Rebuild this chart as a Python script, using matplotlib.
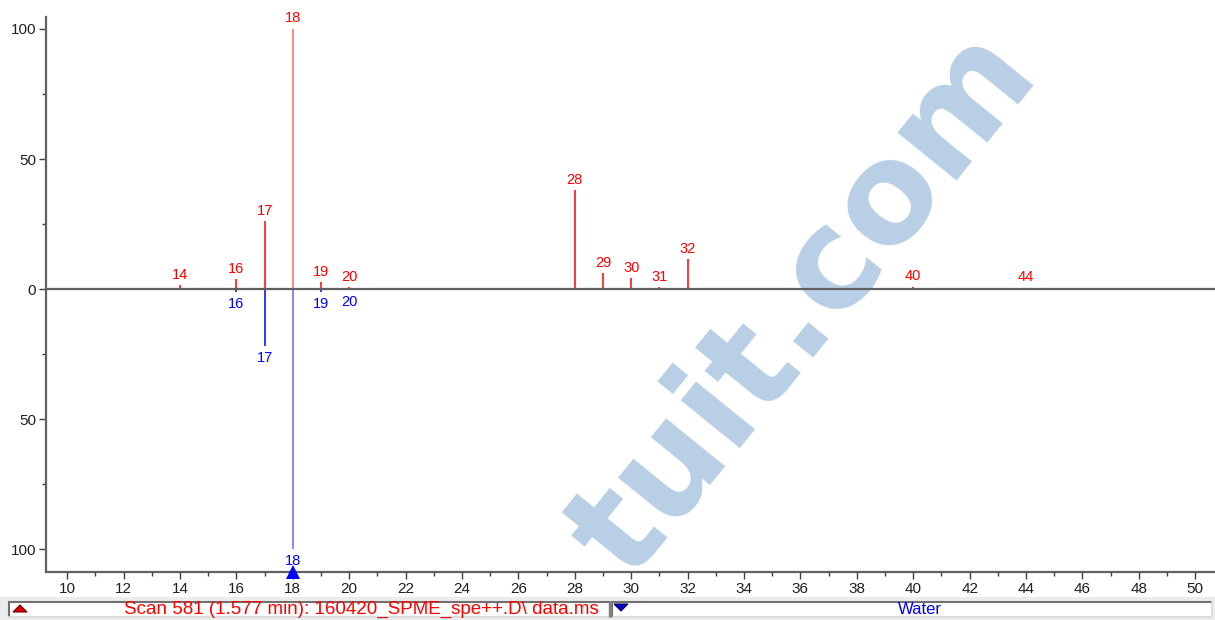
import matplotlib
matplotlib.use("Agg")
import matplotlib.pyplot as plt
from matplotlib.patches import Rectangle, Polygon
from matplotlib.ticker import MultipleLocator, FuncFormatter

plt.rcParams['font.family'] = ['Liberation Sans', 'DejaVu Sans']

# Scan spectrum (upper, red) and library spectrum (lower, blue)
scan_mz = [14, 16, 17, 18, 19, 20, 28, 29, 30, 31, 32, 40, 44]
scan_abund = [1.4, 3.8, 26, 100, 2.6, 0.6, 38, 6, 4.1, 0.6, 11.5, 0.8, 0.5]
lib_mz = [16, 17, 18, 19, 20]
lib_abund = [1.1, 22, 100, 1.1, 0.5]

scan_title = "Scan 581 (1.577 min): 160420_SPME_spe++.D\\ data.ms"
lib_title = "Water"

W, H = 1215, 620
fig = plt.figure(figsize=(W / 100, H / 100), dpi=100)

# background layer in pixel coordinates (status bar, watermark)
bg = fig.add_axes([0, 0, 1, 1], zorder=0)
bg.set_xlim(0, W)
bg.set_ylim(H, 0)
bg.axis('off')
bg.add_patch(Rectangle((0, 597), W, 23, facecolor='#ececec', edgecolor='none'))
for x0, x1 in [(8, 611), (611, 1212)]:
    bg.add_patch(Rectangle((x0, 601), x1 - x0, 16, facecolor='white', edgecolor='none'))
    bg.plot([x0, x1], [601.5, 601.5], color='#707070', lw=1.5, solid_capstyle='butt')
    bg.plot([x0 + 0.5, x0 + 0.5], [601, 617], color='#707070', lw=1.5, solid_capstyle='butt')
    bg.plot([x0, x1], [616.5, 616.5], color='#d8d8d8', lw=1.2, solid_capstyle='butt')
    bg.plot([x1 - 0.5, x1 - 0.5], [601, 617], color='#d8d8d8', lw=1.2, solid_capstyle='butt')
bg.plot([610, 610], [601, 617], color='#808080', lw=2.5, solid_capstyle='butt')
bg.add_patch(Polygon([[13, 612], [27, 612], [20, 605]], closed=True,
                     facecolor='#e00000', edgecolor='#600000', lw=0.8))
bg.add_patch(Polygon([[614, 604], [628, 604], [621, 611]], closed=True,
                     facecolor='#0000c0', edgecolor='#000060', lw=0.8))

bg.text(805, 305, "tuit.com", rotation=51, fontsize=100, fontweight='bold',
        family='DejaVu Sans', color='#b8cfe6', ha='center', va='center',
        rotation_mode='anchor')

bg.text(361, 609.5, scan_title, color='#ff0000', fontsize=13.5,
        ha='center', va='center')
bg.text(920, 609.5, lib_title, color='#0000ff', fontsize=12,
        ha='center', va='center')

# main spectrum axes
ax = fig.add_axes([46 / W, 48 / H, (W - 46) / W, (572 - 17) / H], zorder=1)
ax.patch.set_alpha(0)
ax.set_xlim(9.25, 50.7)
ax.set_ylim(-108.8, 104.6)

red, red_hi = '#ff0000', '#ff6464'
blue, blue_hi = '#0000ff', '#6464ff'

for mz, a in zip(scan_mz, scan_abund):
    c = red_hi if a >= 100 else red
    ax.vlines(mz, 0, a, color=c, lw=1.1)
    ax.annotate(str(mz), (mz, a), xytext=(0, 2.5), textcoords='offset points',
                ha='center', va='bottom', color=red, fontsize=10.5)

for mz, a in zip(lib_mz, lib_abund):
    c = blue_hi if a >= 100 else blue
    ax.vlines(mz, 0, -a, color=c, lw=1.1)
    ax.annotate(str(mz), (mz, -a), xytext=(0, -3.5), textcoords='offset points',
                ha='center', va='top', color=blue, fontsize=10.5)

ax.axhline(0, color='#606060', lw=1.6, zorder=3)

# selected-ion marker on the mass axis
top_mz = scan_mz[scan_abund.index(max(scan_abund))]
ax.plot([top_mz], [-108.8], marker='^', markersize=10, color='#0000ff',
        clip_on=False, zorder=5, markeredgewidth=0)

for side in ('top', 'right'):
    ax.spines[side].set_visible(False)
for side in ('left', 'bottom'):
    ax.spines[side].set_color('#606060')
    ax.spines[side].set_linewidth(1.6)

ax.xaxis.set_major_locator(MultipleLocator(2))
ax.xaxis.set_minor_locator(MultipleLocator(1))
ax.yaxis.set_major_locator(MultipleLocator(50))
ax.yaxis.set_minor_locator(MultipleLocator(25))
ax.yaxis.set_major_formatter(FuncFormatter(lambda v, p: f"{abs(v):.0f}"))
ax.tick_params(which='major', length=5, width=1, color='#404040',
               labelsize=11, labelcolor='#202020', pad=2)
ax.tick_params(which='minor', length=3, width=1, color='#404040')

fig.savefig("out.png", dpi=100)
